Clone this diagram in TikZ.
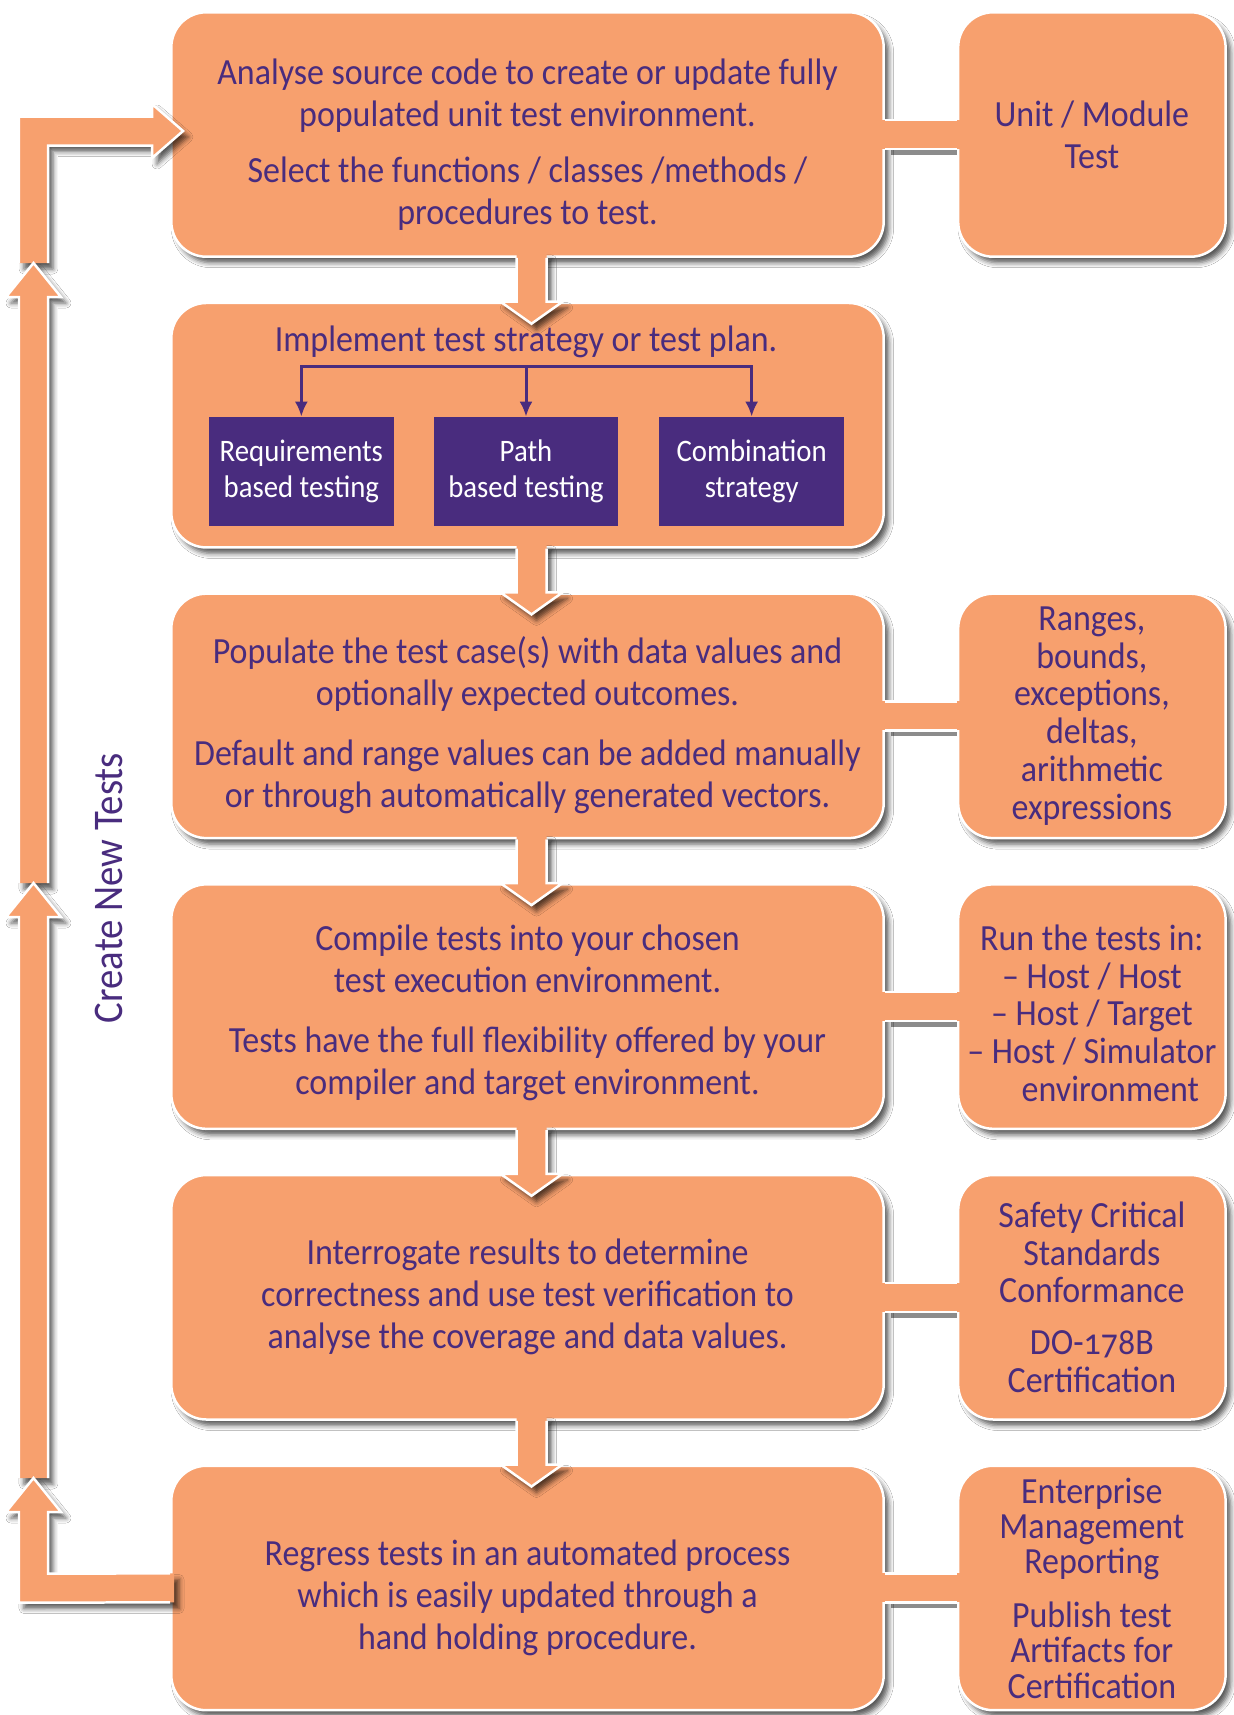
\documentclass[tikz,border=0pt]{standalone}
\usepackage{fontspec}
\setmainfont{Carlito}[FakeStretch=0.92]
\usetikzlibrary{positioning,calc,shadows.blur,arrows.meta}
\definecolor{peach}{RGB}{247,160,110}
\definecolor{ink}{RGB}{73,44,126}
\newcommand{\bodysize}{\fontsize{21}{23.9}\selectfont}
\newcommand{\sidesize}{\fontsize{21}{21.5}\selectfont}
\newcommand{\tagsize}{\fontsize{17.8}{20.5}\selectfont}
\newcommand{\lift}[1]{\rule{0pt}{#1}}
%% block arrow from one box down into the next
\newcommand{\godown}[2]{%
  \coordinate (top) at ($(#1.south)+(4,0)$);
  \coordinate (bot) at ($(#2.north)+(4,0)$);
  \fill[peach,cast] ($(top)+(-15,-4)$) -- ($(bot)+(-15,0)$)
    -- ($(bot)+(-31,0)$) -- ($(bot)+(0,22)$)
    -- ($(bot)+(31,0)$) -- ($(bot)+(15,0)$)
    -- ($(top)+(15,-4)$) -- cycle;
  \draw[rim] ($(top)+(-15,0)$) -- ($(bot)+(-15,0)$)
    -- ($(bot)+(-31,0)$) -- ($(bot)+(0,22)$)
    -- ($(bot)+(31,0)$) -- ($(bot)+(15,0)$)
    -- ($(top)+(15,0)$);}
%% bar from a box to the note on its right
\newcommand{\goright}[2]{%
  \fill[black,opacity=0.45] ($(#1.east)+(6,-8.5)$) rectangle ($(#2.west)+(0,20.5)$);
  \fill[peach] ($(#1.east)+(-4,-14.5)$) rectangle ($(#2.west)+(4,14.5)$);
  \draw[rim] ($(#1.east)+(0,-14.5)$) -- ($(#2.west)+(0,-14.5)$)
    ($(#1.east)+(0,14.5)$) -- ($(#2.west)+(0,14.5)$);}

\begin{document}
\begin{tikzpicture}[x=0.02cm,y=-0.02cm,
% Box styles
box/.style={rectangle,rounded corners=0.7cm,fill=peach,draw=white,
	line width=0.05cm,minimum width=14.25cm,minimum height=4.89cm,
	align=center,text=ink,font=\bodysize,cast},
note/.style={box,minimum width=5.35cm},
tag/.style={rectangle,fill=ink,text=white,minimum width=3.7cm,
	minimum height=2.18cm,align=center,font=\tagsize},
% Line styles
cast/.style={blur shadow={shadow xshift=0.1cm,shadow yshift=-0.12cm,
	shadow blur radius=0.1cm,shadow opacity=65}},
rim/.style={white,line width=0.05cm},
fork/.style={ink,line width=0.06cm},
node distance=0.875cm,
]
\fill[white] (0,0) rectangle (1234,1715);
\useasboundingbox (0,0) rectangle (1234,1715);

%% Main steps
\node (b1) [box] at (527.5,134.5) {\lift{26pt}Analyse source code to create or update fully\\
	populated unit test environment.\\[8pt]
	Select the functions / classes /methods /\\ procedures to test.};
\node (b2) [box,below=of b1] {};
\node (b3) [box,below=of b2] {\lift{26pt}Populate the test case(s) with data values and\\
	optionally expected outcomes.\\[10pt]
	Default and range values can be added manually\\
	or through automatically generated vectors.};
\node (b4) [box,below=of b3] {\lift{22pt}Compile tests into your chosen\\
	test execution environment.\\[10pt]
	Tests have the full flexibility offered by your\\
	compiler and target environment.};
\node (b5) [box,below=of b4] {Interrogate results to determine\\
	correctness and use test verification to\\
	analyse the coverage and data values.};
\node (b6) [box,below=of b5] {\lift{26pt}Regress tests in an automated process\\
	which is easily updated through a\\ hand holding procedure.};

%% Notes on the right
\node (n1) [note,right=1.44cm of b1] {Unit / Module\\ Test};
\node (n3) [note,right=1.44cm of b3,font=\sidesize] {Ranges,\\ bounds,\\
	exceptions,\\ deltas,\\ arithmetic\\ expressions};
\node (n4) [note,right=1.44cm of b4,font=\sidesize] {\lift{22pt}Run the tests in:\\
	– Host / Host\\ – Host / Target\\ – Host / Simulator\\
	\hspace*{1em}environment};
\node (n5) [note,right=1.44cm of b5,font=\sidesize] {Safety Critical\\
	Standards\\ Conformance\\[8pt]
	DO-{\addfontfeature{Numbers=OldStyle}178}B\\ Certification};
\node (n6) [note,right=1.44cm of b6,font=\fontsize{21}{20}\selectfont]
	{Enterprise\\ Management\\ Reporting\\[11pt]
	Publish test\\ Artifacts for\\ Certification};

%% Test strategy
\node (plan) [text=ink,font=\bodysize] at (526,342)
	{Implement test strategy or test plan.};
\node (path) [tag] at (526,471.5) {Path\\ based testing};
\node (req) [tag,left=0.78cm of path] {Requirements\\ based testing};
\node (comb) [tag,right=0.8cm of path] {Combination\\ strategy};
\coordinate (split) at (526,366);
\draw[fork,-{Latex[length=0.3cm,width=0.26cm]}] (split) -| (req.north);
\draw[fork,-{Latex[length=0.3cm,width=0.26cm]}] (split) -- (path.north);
\draw[fork,-{Latex[length=0.3cm,width=0.26cm]}] (split) -| (comb.north);

%% Loop back to the top
\coordinate (in) at ($(b1.west)+(13,-3.5)$);
\fill[peach,cast] (19,263) -- (19,116.5) -- ($(in)+(-31,-14.5)$)
	-- ($(in)+(-31,-27)$) -- (in) -- ($(in)+(-31,27)$)
	-- ($(in)+(-31,14.5)$) -- (48,145.5) -- (48,263) -- cycle;
\draw[rim] (19,263) -- (19,116.5) -- ($(in)+(-31,-14.5)$)
	-- ($(in)+(-31,-27)$) -- (in) -- ($(in)+(-31,27)$)
	-- ($(in)+(-31,14.5)$) -- (48,145.5) -- (48,263);
\fill[peach,cast] (19,883) -- (19,297) -- (6,297) -- (33.5,263)
	-- (61,297) -- (48,297) -- (48,883) -- cycle;
\draw[rim] (19,883) -- (19,297) -- (6,297) -- (33.5,263)
	-- (61,297) -- (48,297) -- (48,883);
\fill[peach,cast] (19,1478) -- (19,917) -- (6,917) -- (33.5,883)
	-- (61,917) -- (48,917) -- (48,1478) -- cycle;
\draw[rim] (19,1478) -- (19,917) -- (6,917) -- (33.5,883)
	-- (61,917) -- (48,917) -- (48,1478);
\fill[peach,cast] ($(b6.west)+(4,-14.5)$) -- (48,1573.5) -- (48,1512)
	-- (61,1512) -- (33.5,1478) -- (6,1512) -- (19,1512) -- (19,1602.5)
	-- ($(b6.west)+(4,14.5)$) -- cycle;
\draw[rim] ($(b6.west)+(0,-14.5)$) -- (48,1573.5) -- (48,1512)
	-- (61,1512) -- (33.5,1478) -- (6,1512) -- (19,1512) -- (19,1602.5)
	-- ($(b6.west)+(0,14.5)$);
\node (loopname) [text=ink,font=\fontsize{24}{28}\selectfont,rotate=90]
	at (109,888) {Create New Tests};

%% Bars to the notes
\goright{b1}{n1}
\goright{b3}{n3}
\goright{b4}{n4}
\goright{b5}{n5}
\goright{b6}{n6}

%% Arrows between steps
\godown{b1}{b2}
\godown{b2}{b3}
\godown{b3}{b4}
\godown{b4}{b5}
\godown{b5}{b6}

\end{tikzpicture}
\end{document}
